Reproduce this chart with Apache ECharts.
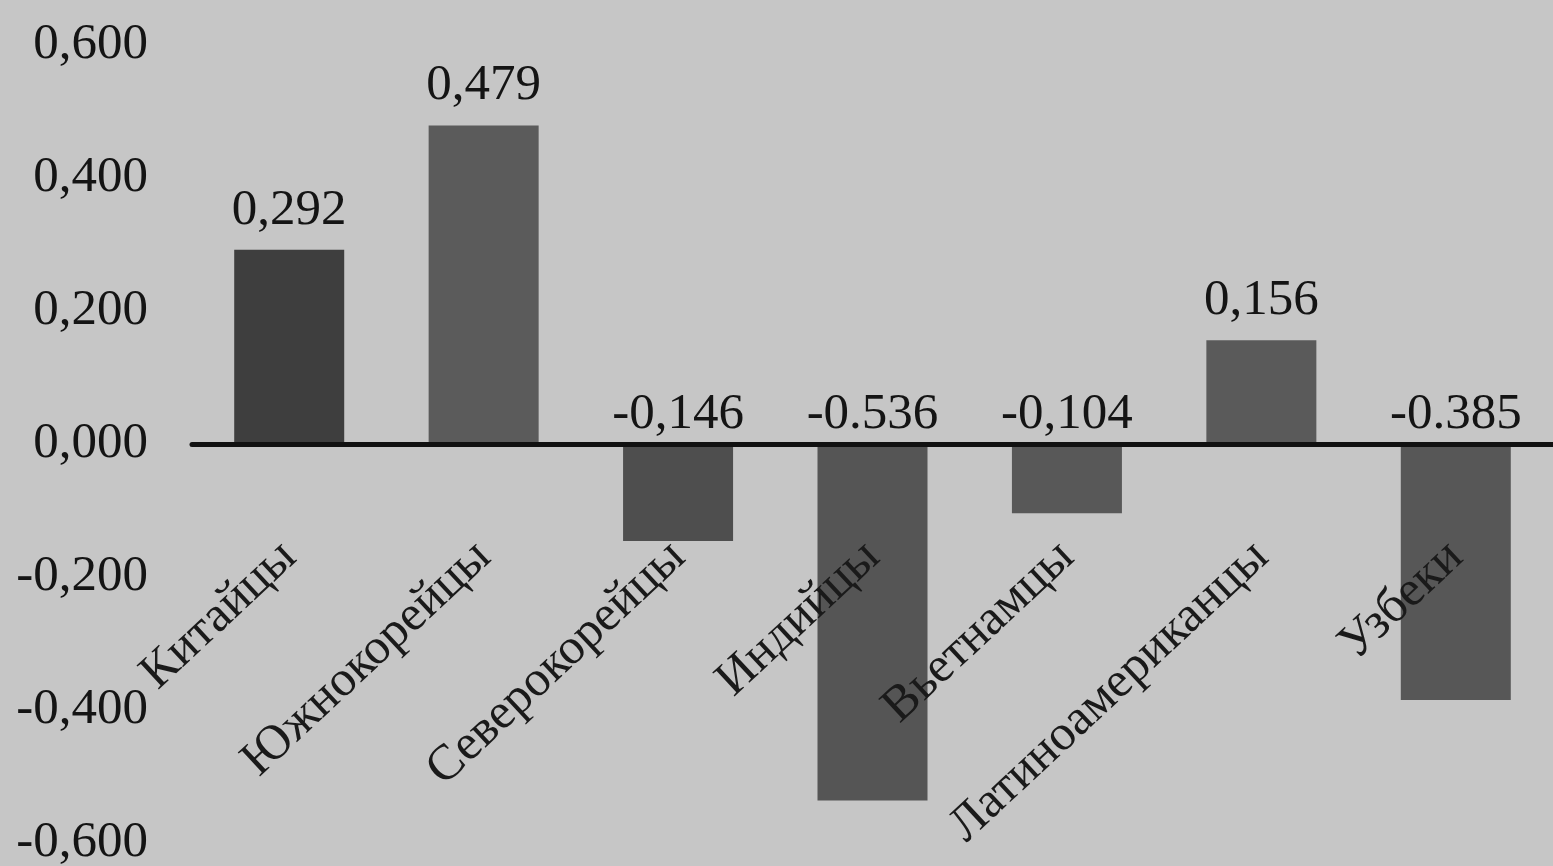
<!DOCTYPE html>
<html>
<head>
<meta charset="utf-8">
<script src="https://cdn.jsdelivr.net/npm/echarts@6/dist/echarts.min.js"></script>
<style>
  html, body { margin: 0; padding: 0; background: #c6c6c6; }
  #chart { width: 1553px; height: 866px; }
</style>
</head>
<body>
<div id="chart"></div>
<script>
// данные
const categories = ["Китайцы", "Южнокорейцы", "Северокорейцы", "Индийцы", "Вьетнамцы", "Латиноамериканцы", "Узбеки"];
const values = [0.292, 0.479, -0.146, -0.536, -0.104, 0.156, -0.385];
const valueLabels = ["0,292", "0,479", "-0,146", "-0.536", "-0,104", "0,156", "-0.385"];
const barColors = ["#3e3e3e", "#5b5b5b", "#4e4e4e", "#555555", "#585858", "#5a5a5a", "#575757"];
const yTicks = [-0.6, -0.4, -0.2, 0, 0.2, 0.4, 0.6];

const chart = echarts.init(document.getElementById("chart"));
const serif = "Liberation Serif";

const option = {
  backgroundColor: "#c6c6c6",
  animation: false,
  grid: { left: 192, right: 0, top: 45, bottom: 23, containLabel: false, outerBoundsMode: "none" },
  xAxis: {
    type: "category",
    data: categories,
    z: 5, // подписи поверх столбцов
    axisLine: { onZero: true, lineStyle: { color: "#111", width: 5 } },
    axisTick: { show: false },
    axisLabel: {
      rotate: 43,
      margin: -293, // подписи у нулевой линии, а не внизу сетки
      color: "#1a1a1a",
      fontFamily: serif,
      fontSize: 50,
      interval: 0,
    },
  },
  yAxis: {
    type: "value",
    min: yTicks[0],
    max: yTicks[yTicks.length - 1],
    interval: 0.2,
    axisLine: { show: false },
    axisTick: { show: false },
    splitLine: { show: false },
    axisLabel: {
      margin: 44,
      color: "#141414",
      fontFamily: serif,
      fontSize: 51,
      formatter: (v) => v.toFixed(3).replace(".", ","),
    },
  },
  series: [
    {
      type: "bar",
      barWidth: 110,
      data: values.map((v, i) => ({
        value: v,
        itemStyle: { color: barColors[i] },
        label: {
          show: true,
          position: "top",
          distance: v > 0 ? 14 : 4,
          formatter: valueLabels[i],
          color: "#141414",
          fontFamily: serif,
          fontSize: 51,
        },
      })),
    },
  ],
};

chart.setOption(option);
</script>
</body>
</html>
